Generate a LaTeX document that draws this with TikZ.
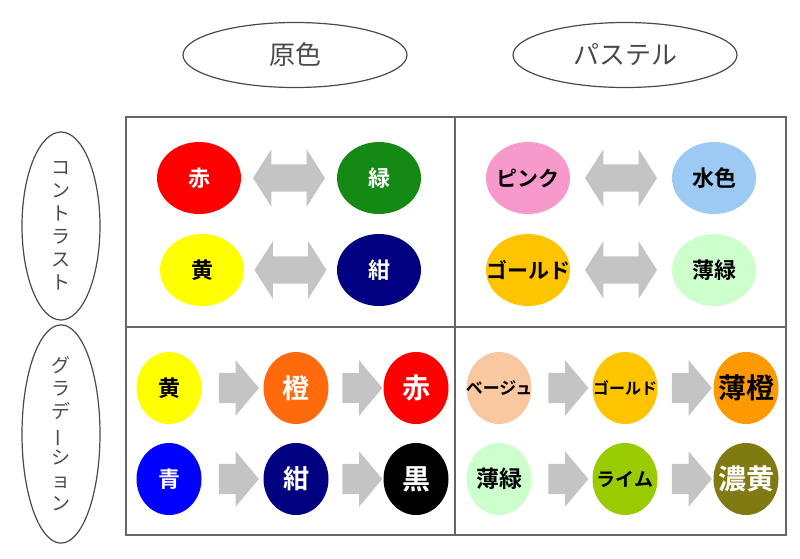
\documentclass[tikz,border=0pt]{standalone}
\usepackage{fontspec}
\setmainfont{Noto Sans CJK JP}[BoldFont={Noto Sans CJK JP Bold}]
\usetikzlibrary{shapes.geometric,shapes.arrows,calc}

\definecolor{framegray}{HTML}{666666}
\definecolor{labelgray}{HTML}{4A4A4A}
\definecolor{arrowgray}{HTML}{C4C4C4}
\definecolor{cAka}{HTML}{FF0000}
\definecolor{cMidori}{HTML}{148A14}
\definecolor{cKi}{HTML}{FFFF00}
\definecolor{cKon}{HTML}{000080}
\definecolor{cPink}{HTML}{F79ACB}
\definecolor{cMizu}{HTML}{9CCAF5}
\definecolor{cGold}{HTML}{FFC400}
\definecolor{cUsuMidori}{HTML}{CCFFCC}
\definecolor{cDai}{HTML}{FF6A0D}
\definecolor{cAo}{HTML}{0000FF}
\definecolor{cBeige}{HTML}{FAC8A0}
\definecolor{cUsuDai}{HTML}{FF9900}
\definecolor{cLime}{HTML}{99CC00}
\definecolor{cKoki}{HTML}{7F7A12}

% label that may run over the edge of its dot
\newcommand\DOTTEXT[1]{\makebox[0pt]{#1}}

\tikzset{
  colhead/.style={ellipse, draw=labelgray, line width=1.2pt, minimum width=224pt,
    minimum height=65pt, text=labelgray, font=\fontsize{26}{26}\selectfont},
  rowhead/.style={ellipse, draw=labelgray, line width=1.2pt, minimum width=78pt,
    minimum height=188pt, inner sep=0pt, text=labelgray, align=center,
    font=\fontsize{19}{23}\selectfont},
  dot/.style={ellipse, inner sep=0pt, minimum width=84pt, minimum height=72pt},
  sdot/.style={dot, minimum width=65pt},
  fs/.style={font=\bfseries\fontsize{#1}{#1}\selectfont},
  twoway/.style={double arrow, fill=arrowgray, inner xsep=0pt, inner ysep=13.5pt,
    minimum height=72pt, double arrow head extend=15pt, double arrow tip angle=115},
  oneway/.style={single arrow, fill=arrowgray, inner xsep=0pt, inner ysep=15pt,
    minimum height=40pt, single arrow head extend=12.5pt, single arrow tip angle=100}
}

\begin{document}
\begin{tikzpicture}[x=1pt,y=-1pt]
\useasboundingbox (0,0) rectangle (800,558);

% table
\draw[framegray, line width=1.5pt] (126,117) rectangle (786,535);
\draw[framegray, line width=1.5pt] (455,117) -- (455,535);
\draw[framegray, line width=1.5pt] (126,327) -- (786,327);

% headings
\node[colhead] (genshoku) at (295,55) {原色};
\node[colhead] (pastel) at (625,55) {パステル};
\node[rowhead] (contrast) at (61,226) {コ\\ン\\ト\\ラ\\ス\\ト};
\node[rowhead] (gradation) at (61,434) {グ\\ラ\\デ\\\rotatebox[origin=c]{90}{ー}\\シ\\ョ\\ン};

% contrast, primary
\node[dot, fill=cAka, text=white, fs=22] (aka) at (199,178) {赤};
\node[dot, fill=cMidori, text=white, fs=22] (midori) at (379,178) {緑};
\node[dot, fill=cKi, fs=22] (ki) at (202,270) {黄};
\node[dot, fill=cKon, text=white, fs=22] (kon) at (379,270) {紺};
\node[twoway] at ($(aka)!.5!(midori)$) {};
\node[twoway] at ($(ki)!.5!(kon)$) {};

% contrast, pastel
\node[dot, fill=cPink, fs=21] (pink) at (528,178) {\DOTTEXT{ピンク}};
\node[dot, fill=cMizu, fs=22] (mizu) at (714,178) {水色};
\node[dot, fill=cGold, fs=21] (gold) at (528,270) {\DOTTEXT{ゴールド}};
\node[dot, fill=cUsuMidori, fs=22] (usumidori) at (714,270) {薄緑};
\node[twoway] at ($(pink)!.5!(mizu)$) {};
\node[twoway] at ($(gold)!.5!(usumidori)$) {};

% gradation, primary
\node[sdot, fill=cKi, fs=22] (ki2) at (169,388) {黄};
\node[sdot, fill=cDai, text=white, fs=27] (dai) at (296,388) {\DOTTEXT{橙}};
\node[sdot, fill=cAka, text=white, fs=28] (aka2) at (416,388) {\DOTTEXT{赤}};
\node[sdot, fill=cAo, text=white, fs=22] (ao) at (169,479) {青};
\node[sdot, fill=cKon, text=white, fs=26] (kon2) at (296,479) {\DOTTEXT{紺}};
\node[sdot, fill=black, text=white, fs=28] (kuro) at (416,479) {\DOTTEXT{黒}};
\node[oneway] at ($(ki2)!.5!(dai)$) {};
\node[oneway] at ($(dai)!.5!(aka2)$) {};
\node[oneway] at ($(ao)!.5!(kon2)$) {};
\node[oneway] at ($(kon2)!.5!(kuro)$) {};

% gradation, pastel
\node[sdot, fill=cBeige, fs=17] (beige) at (499,388) {\DOTTEXT{ベージュ}};
\node[sdot, fill=cGold, fs=16] (gold2) at (625,388) {\DOTTEXT{ゴールド}};
\node[sdot, fill=cUsuDai, fs=28] (usudai) at (746,388) {\DOTTEXT{薄橙}};
\node[sdot, fill=cUsuMidori, fs=23] (usumidori2) at (499,479) {\DOTTEXT{薄緑}};
\node[sdot, fill=cLime, fs=19] (lime) at (625,479) {\DOTTEXT{ライム}};
\node[sdot, fill=cKoki, text=white, fs=28] (koki) at (746,479) {\DOTTEXT{濃黄}};
\node[oneway] at ($(beige)!.5!(gold2)$) {};
\node[oneway] at ($(gold2)!.5!(usudai)$) {};
\node[oneway] at ($(usumidori2)!.5!(lime)$) {};
\node[oneway] at ($(lime)!.5!(koki)$) {};

\end{tikzpicture}
\end{document}
